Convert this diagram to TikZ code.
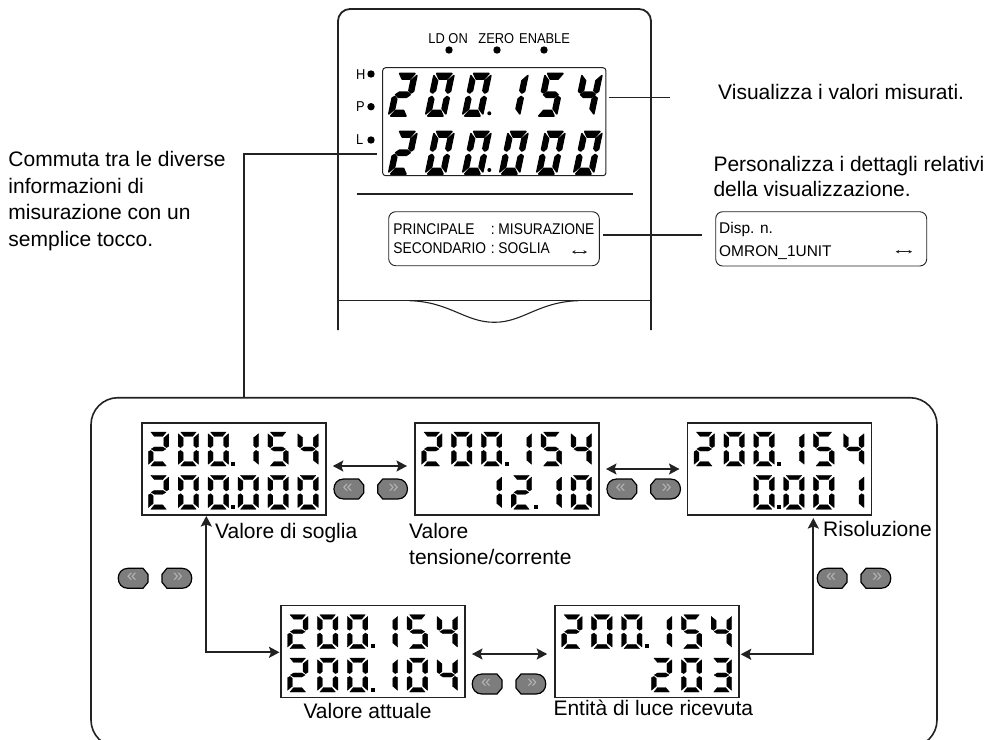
\documentclass[tikz,border=0pt]{standalone}
\usepackage{fontspec}
\setmainfont{Liberation Sans}
\usetikzlibrary{arrows.meta}

\definecolor{inkdark}{HTML}{222222}
\definecolor{btngray}{HTML}{7D7D7D}
\definecolor{chevgray}{HTML}{B4B4B4}

\tikzset{
  seg/.style={fill=black, draw=black, line width=0.3pt, line join=round},
  seg a/.pic={\path[seg] (.12,0) -- (.88,0) -- (.70,.13) -- (.30,.13) -- cycle;},
  seg b/.pic={\path[seg] (1,.05) -- (.76,.17) -- (.76,.40) -- (.88,.46) -- (1,.42) -- cycle;},
  seg c/.pic={\path[seg] (1,.58) -- (.88,.54) -- (.76,.60) -- (.76,.83) -- (1,.95) -- cycle;},
  seg d/.pic={\path[seg] (.30,.87) -- (.70,.87) -- (.88,1) -- (.12,1) -- cycle;},
  seg e/.pic={\path[seg] (0,.58) -- (.12,.54) -- (.24,.60) -- (.24,.83) -- (0,.95) -- cycle;},
  seg f/.pic={\path[seg] (0,.05) -- (.24,.17) -- (.24,.40) -- (.12,.46) -- (0,.42) -- cycle;},
  seg g/.pic={\path[seg] (.14,.50) -- (.30,.44) -- (.70,.44) -- (.86,.50) -- (.70,.56) -- (.30,.56) -- cycle;},
  dig0/.pic={\foreach \s in {a,b,c,d,e,f} \pic[transform shape] {seg \s};},
  dig1/.pic={\foreach \s in {b,c} \pic[transform shape] {seg \s};},
  dig2/.pic={\foreach \s in {a,b,g,e,d} \pic[transform shape] {seg \s};},
  dig3/.pic={\foreach \s in {a,b,g,c,d} \pic[transform shape] {seg \s};},
  dig4/.pic={\foreach \s in {f,g,b,c} \pic[transform shape] {seg \s};},
  dig5/.pic={\foreach \s in {a,f,g,c,d} \pic[transform shape] {seg \s};},
  digx/.pic={},
  btnleft/.pic={
    \path[btn] (-5,-10) -- (10,-10) -- (15,-4) -- (15,4) -- (10,10) -- (-5,10)
      .. controls (-18,10) and (-18,-10) .. (-5,-10) -- cycle;
    \node[chev] (-c) at (-1,-1) {«};},
  btnright/.pic={
    \path[btn] (5,-10) -- (-10,-10) -- (-15,-4) -- (-15,4) -- (-10,10) -- (5,10)
      .. controls (18,10) and (18,-10) .. (5,-10) -- cycle;
    \node[chev] (-c) at (1,-1) {»};},
}

% one row of a small display: box, top offset, digits
\newcommand{\lcdrow}[3]{
  \foreach \d [count=\c from 0] in {#3}
    \pic[smalldigit] at ([shift={({6.5+29.9*\c},#2)}]#1.north west) {dig\d};
}
% the point of a small display: box, top offset of its row, x offset
\newcommand{\lcdpoint}[3]{
  \fill ([shift={(#3-2,#2+29.5)}]#1.north west) rectangle ++(4,4);
}
% a pair of buttons
\newcommand{\btnpair}[3]{
  \pic (#1l) at (#2,#3) {btnleft};
  \pic (#1r) at (#2+44,#3) {btnright};
}

\begin{document}
\begin{tikzpicture}[x=1pt, y=-1pt, >={Stealth[length=10.5pt,width=11pt,inset=2pt]},
  txt/.style={font=\fontsize{21}{26.4}\selectfont, anchor=base west, inner sep=0pt, align=left},
  txtn/.style={txt, anchor=north west},
  small/.style={font=\fontsize{15.5}{18}\selectfont, anchor=base west, inner sep=0pt, xscale=.89},
  tiny/.style={font=\fontsize{14.3}{16}\selectfont, anchor=base west, inner sep=0pt, xscale=.9},
  roundbox/.style={draw=inkdark, line width=0.9pt, rounded corners=7pt, inner sep=0pt, outer sep=0pt},
  lcdbox/.style={draw=inkdark, line width=1.5pt, minimum width=184pt, minimum height=92pt, inner sep=0pt, outer sep=0pt},
  panel/.style={draw=inkdark, line width=1.6pt, rounded corners=27pt, minimum width=846pt, minimum height=349.3pt, inner sep=0pt, outer sep=0pt},
  led/.style={circle, fill=black, inner sep=0pt, minimum size=7.4pt},
  body/.style={draw=inkdark, line width=1.8pt},
  leader/.style={draw=inkdark, line width=1.1pt},
  hook/.style={draw=inkdark, line width=2pt},
  swap/.style={draw=inkdark, line width=1.5pt, <->, shorten <=7pt, shorten >=8pt},
  tinyarrow/.style={draw=inkdark, line width=0.5pt, {Stealth[length=3.5pt,width=3.5pt]}-{Stealth[length=3.5pt,width=3.5pt]}},
  bigdigit/.style={xslant=.21, xscale=20, yscale=42.5, seg/.style={fill=black, draw=black, line width=1.6pt, line join=round}},
  smalldigit/.style={xscale=20.5, yscale=34},
  btn/.style={draw=black, line width=1.2pt, fill=btngray, line join=round},
  chev/.style={font=\fontsize{18}{18}\selectfont, text=chevgray, inner sep=0pt}]
  \useasboundingbox (0,0) rectangle (993,739);
  % device front
  \draw[body, rounded corners=12pt] (338,330) -- (338,9) -- (651,9) -- (651,330);
  \draw[leader] (338,300.7) -- (651,300.7);
  \draw[leader] (410,300.7) .. controls (450,302) and (465,322.3) .. (494.3,322.3)
    .. controls (523,322.3) and (538,302) .. (578,300.7);
  \draw[leader] (356.7,194) -- (632.7,194);
  \node[tiny] (lbon) at (428.3,43.3) {LD ON};
  \node[tiny] (lbzero) at (478.3,43.3) {ZERO};
  \node[tiny] (lben) at (519,43.3) {ENABLE};
  \node[led] (ledon) at (449,50) {};
  \node[led] (ledzero) at (497,50) {};
  \node[led] (leden) at (544,50) {};
  \node[tiny] (lbh) at (356,79.3) {H};
  \node[tiny] (lbp) at (356,111) {P};
  \node[tiny] (lbl) at (356,144) {L};
  \node[led] (ledh) at (371,74) {};
  \node[led] (ledp) at (371,106.7) {};
  \node[led] (ledl) at (371,140) {};
  \node[roundbox, rounded corners=3pt, line width=1pt, minimum width=223.3pt, minimum height=108pt] (mainlcd) at (494.3,121.7) {};
  \foreach \d [count=\c from 0] in {2,0,0,1,5,4}
    \pic[bigdigit] at ({397.3+37*\c},73.5) {dig\d};
  \foreach \d [count=\c from 0] in {2,0,0,0,0,0}
    \pic[bigdigit] at ({397.3+37*\c},131.5) {dig\d};
  \fill (489.3,113.3) circle (2);
  \fill (489.3,170) circle (2);
  % menu boxes
  \node[roundbox, minimum width=210.6pt, minimum height=54pt] (menubox) at (494,238.7) {};
  \node[small] (pri) at (393.3,234) {PRINCIPALE};
  \node[small] (pric) at (490.7,234) {:};
  \node[small] (prim) at (498.3,234) {MISURAZIONE};
  \node[small] (sec) at (393.3,253) {SECONDARIO};
  \node[small] (secc) at (490.7,253) {:};
  \node[small] (secs) at (498.3,253) {SOGLIA};
  \coordinate (ma) at (572,252); \coordinate (mb) at (587,252);
  \draw[tinyarrow] (ma) -- (mb);
  \node[roundbox, minimum width=211pt, minimum height=54.3pt] (dispbox) at (821.2,238.85) {};
  \node[small, xscale=1.12] (dispn) at (719,233) {Disp. n.};
  \node[small, xscale=1.12] (dispo) at (719,256.7) {OMRON\_1UNIT};
  \coordinate (da) at (895.7,251.7); \coordinate (db) at (912,251.7);
  \draw[tinyarrow] (da) -- (db);
  % callouts
  \node[txt] (visu) at (718,99.3) {Visualizza i valori misurati.};
  \node[txtn, font=\fontsize{21}{24.3}\selectfont] (pers) at (713.3,156.4) {Personalizza i dettagli relativi\\della visualizzazione.};
  \node[txtn] (comm) at (8.3,151.4) {Commuta tra le diverse\\informazioni di\\misurazione con un\\semplice tocco.};
  \coordinate (visuend) at (670,97.3);
  \draw[leader, shorten <=3pt] ([yshift=24.4pt]mainlcd.east) -- (visuend);
  \draw[leader, shorten <=4pt, shorten >=13.4pt] ([yshift=3.7pt]menubox.east) -- ([yshift=3.85pt]dispbox.west);
  % panel of display modes
  \node[panel] (modes) at (514,572.35) {};
  \coordinate (modestop) at (244,397.7);
  \draw[hook, line width=1.6pt] ([shift={(-6,32.3)}]mainlcd.west) -- (244,154) -- (modestop);
  \node[lcdbox] (thresh) at (233.8,469) {};
  \node[lcdbox] (volt) at (507,469) {};
  \node[lcdbox] (resol) at (779.5,469) {};
  \node[lcdbox] (actual) at (373,651.7) {};
  \node[lcdbox] (recv) at (647.2,651.7) {};
  \lcdrow{thresh}{9}{2,0,0,1,5,4}
  \lcdrow{thresh}{52.3}{2,0,0,0,0,0}
  \lcdrow{volt}{9}{2,0,0,1,5,4}
  \lcdrow{volt}{52.3}{x,x,1,2,1,0}
  \lcdrow{resol}{9}{2,0,0,1,5,4}
  \lcdrow{resol}{52.3}{x,x,0,0,0,1}
  \lcdrow{actual}{9}{2,0,0,1,5,4}
  \lcdrow{actual}{52.3}{2,0,0,1,0,4}
  \lcdrow{recv}{9}{2,0,0,1,5,4}
  \lcdrow{recv}{52.3}{x,x,x,2,0,3}
  \foreach \b in {thresh,volt,resol,actual,recv} {\lcdpoint{\b}{9}{91.6}}
  \foreach \b in {thresh,resol,actual} {\lcdpoint{\b}{52.3}{91.6}}
  \lcdpoint{volt}{52.3}{121}
  \node[txt] (tthresh) at (215,538.3) {Valore di soglia};
  \node[txtn] (tvolt) at (409,522.7) {Valore\\tensione/corrente};
  \node[txt] (tresol) at (823,536.7) {Risoluzione};
  \node[txt] (tactual) at (303.3,718.3) {Valore attuale};
  \node[txt] (trecv) at (553.3,715) {Entità di luce ricevuta};
  % arrows
  \draw[swap] ([yshift=3pt]thresh.east) -- ([yshift=3pt]volt.west);
  \draw[swap] (volt.east) -- (resol.west);
  \draw[swap] ([yshift=-2.3pt]actual.east) -- ([yshift=-2.3pt]recv.west);
  \draw[hook, <->, shorten <=1pt, shorten >=1.5pt] ([xshift=-27.5pt]thresh.south) |- ([yshift=-0.6pt]actual.west);
  \draw[hook, <->, shorten <=3pt, shorten >=1.5pt] ([xshift=33.8pt]resol.south) |- ([yshift=-2.6pt]recv.east);
  % buttons
  \btnpair{pa}{348.7}{489}
  \btnpair{pb}{621.7}{489}
  \btnpair{pc}{133}{578.3}
  \btnpair{pd}{832}{578.3}
  \btnpair{pe}{487}{684}
\end{tikzpicture}
\end{document}
